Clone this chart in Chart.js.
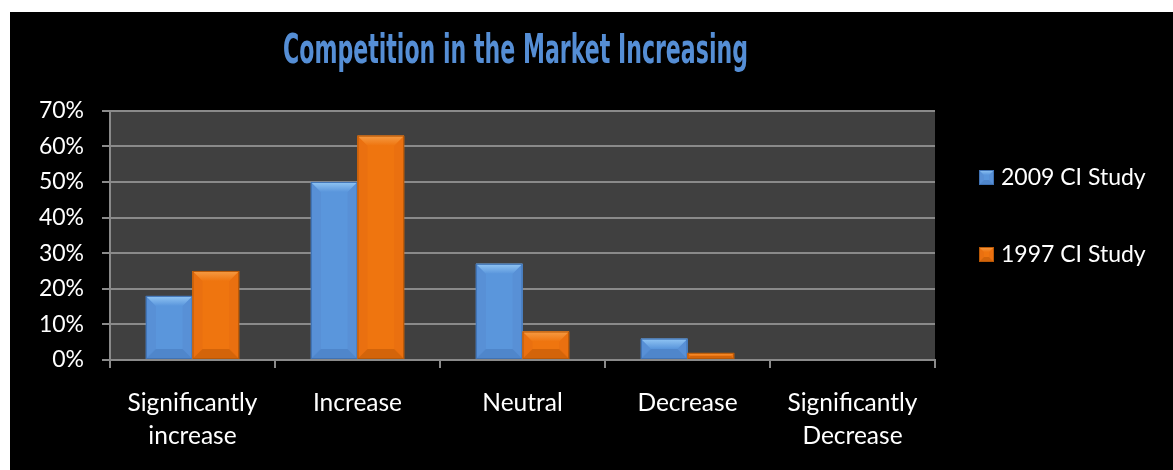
<!DOCTYPE html>
<html>
<head>
<meta charset="utf-8">
<script src="https://cdn.jsdelivr.net/npm/chart.js@4.4.1/dist/chart.umd.min.js"></script>
<style>
  html, body { margin: 0; padding: 0; background: #ffffff; }
  #wrap { position: absolute; left: 10px; top: 12px; width: 1163px; height: 458px; background: #000000; }
  canvas { display: block; }
</style>
</head>
<body>
<div id="wrap"><canvas id="c" width="1163" height="458"></canvas></div>
<script>
// ---- data ----
const chartTitle = 'Competition in the Market Increasing';
const categories = [['Significantly', 'increase'], 'Increase', 'Neutral', 'Decrease', ['Significantly', 'Decrease']];
const seriesNames = ['2009 CI Study', '1997 CI Study'];
const study2009 = [18, 50, 27, 6, 0];
const study1997 = [25, 63, 8, 2, 0];
const yTickValues = [0, 10, 20, 30, 40, 50, 60, 70];

// ---- styling ----
const palettes = [
  { base: '#5a96dc', top: '#92c6f4', bottom: '#4f86cb', side: '#5890d6', edge: '#3f72b4' },
  { base: '#ef750f', top: '#f69c45', bottom: '#d3640a', side: '#ea7010', edge: '#b85806' }
];
const gridColor = '#8a8a8a';

Chart.defaults.font.family = 'Lato, "Open Sans", "Liberation Sans", sans-serif';
Chart.defaults.font.size = 23;
Chart.defaults.color = '#ffffff';

function poly(ctx, pts, fill) {
  ctx.beginPath();
  ctx.moveTo(pts[0][0], pts[0][1]);
  for (let i = 1; i < pts.length; i++) ctx.lineTo(pts[i][0], pts[i][1]);
  ctx.closePath();
  ctx.fillStyle = fill;
  ctx.fill();
}

// bevelled rectangle: light top facet, darker bottom facet, side facets, thin edge
function bevelRect(ctx, l, t, r, b, bev, c) {
  const w = r - l, h = b - t;
  if (w < 1 || h < 0.5) return;
  const k = Math.min(bev, h / 2, w / 2);
  ctx.fillStyle = c.base;
  ctx.fillRect(l, t, w, h);
  poly(ctx, [[l, t], [l + k, t + k], [l + k, b - k], [l, b]], c.side);
  poly(ctx, [[r, t], [r - k, t + k], [r - k, b - k], [r, b]], c.side);
  const g = ctx.createLinearGradient(0, t, 0, t + k);
  g.addColorStop(0, c.top);
  g.addColorStop(1, c.base);
  poly(ctx, [[l, t], [r, t], [r - k, t + k], [l + k, t + k]], g);
  poly(ctx, [[l, b], [r, b], [r - k, b - k], [l + k, b - k]], c.bottom);
  ctx.strokeStyle = c.edge;
  ctx.lineWidth = 1;
  ctx.strokeRect(l + 0.5, t + 0.5, w - 1, h - 1);
}

const plotBackground = {
  id: 'plotBackground',
  beforeDraw(chart) {
    const { ctx, chartArea: a } = chart;
    ctx.save();
    ctx.fillStyle = '#404040';
    ctx.fillRect(a.left, a.top, a.right - a.left, a.bottom - a.top);
    ctx.restore();
  }
};

const bevelBars = {
  id: 'bevelBars',
  afterDatasetsDraw(chart) {
    const ctx = chart.ctx;
    ctx.save();
    chart.data.datasets.forEach((ds, di) => {
      const meta = chart.getDatasetMeta(di);
      meta.data.forEach(el => {
        const p = el.getProps(['x', 'y', 'base', 'width'], true);
        const l = p.x - p.width / 2, r = p.x + p.width / 2;
        const t = Math.min(p.y, p.base), b = Math.max(p.y, p.base);
        bevelRect(ctx, l, t, r, b, 10, palettes[di]);
      });
    });
    ctx.restore();
  }
};

const titleAndLegend = {
  id: 'titleAndLegend',
  afterDraw(chart) {
    const ctx = chart.ctx;
    ctx.save();
    // title
    ctx.font = 'bold 40px "DejaVu Sans Condensed", "Liberation Sans Narrow", sans-serif';
    ctx.fillStyle = '#558ed5';
    ctx.textAlign = 'center';
    ctx.textBaseline = 'alphabetic';
    ctx.fillText(chartTitle, 505.5, 51, 465);
    // legend
    ctx.font = '23px Lato, "Open Sans", sans-serif';
    ctx.textAlign = 'left';
    ctx.textBaseline = 'middle';
    chart.data.datasets.forEach((ds, i) => {
      const cy = 166 + i * 77;
      bevelRect(ctx, 969, cy - 8, 984, cy + 7, 5, palettes[i]);
      ctx.fillStyle = '#ffffff';
      ctx.fillText(ds.label, 991, cy);
    });
    ctx.restore();
  }
};

new Chart(document.getElementById('c'), {
  type: 'bar',
  data: {
    labels: categories,
    datasets: [
      { label: seriesNames[0], data: study2009, backgroundColor: palettes[0].base },
      { label: seriesNames[1], data: study1997, backgroundColor: palettes[1].base }
    ]
  },
  options: {
    responsive: false,
    animation: false,
    devicePixelRatio: 1,
    categoryPercentage: 0.565,
    barPercentage: 1.0,
    layout: { padding: { top: 98.7, right: 238, bottom: 0, left: 0 } },
    plugins: { legend: { display: false }, title: { display: false }, tooltip: { enabled: false } },
    scales: {
      x: {
        offset: true,
        grid: { display: true, drawOnChartArea: false, drawTicks: true, tickLength: 8, color: gridColor, lineWidth: 2 },
        border: { display: true, color: gridColor, width: 2 },
        ticks: { padding: 18, maxRotation: 0, autoSkip: false, font: { size: 24.5, lineHeight: 1.36 } },
        afterFit(scale) { scale.height = 110; }
      },
      y: {
        min: 0,
        max: 70,
        afterBuildTicks(scale) { scale.ticks = yTickValues.map(v => ({ value: v })); },
        grid: { color: gridColor, lineWidth: 2, tickLength: 8, drawTicks: true },
        border: { display: true, color: gridColor, width: 2 },
        ticks: { padding: 18, callback: v => v + '%', font: { size: 23 } },
        afterFit(scale) { scale.width = 100; }
      }
    }
  },
  plugins: [plotBackground, bevelBars, titleAndLegend]
});
</script>
</body>
</html>
